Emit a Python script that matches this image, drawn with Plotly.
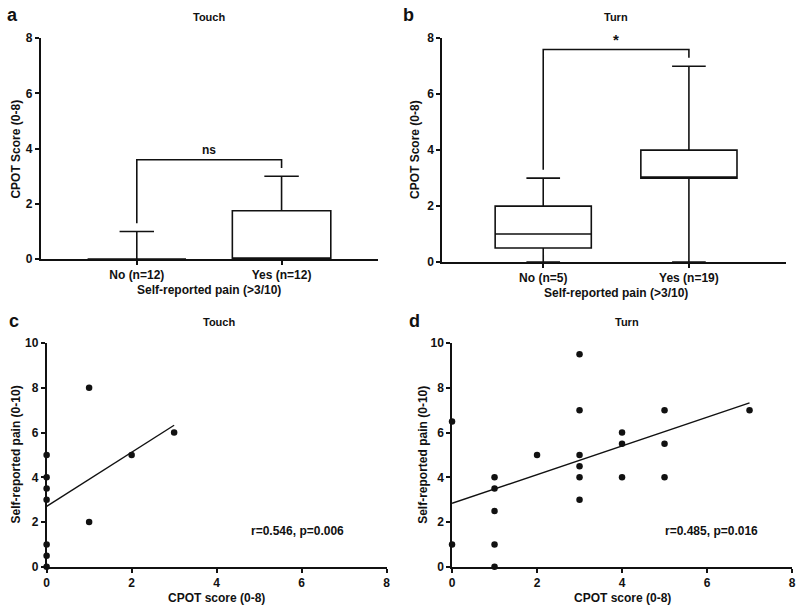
import plotly.graph_objects as go

# ---------------- data ----------------
# Panel a: Touch box summary (CPOT by self-reported pain)
cats_a = ["No (n=12)", "Yes (n=12)"]
q1_a = [0, 0]
med_a = [0, 0]
q3_a = [0, 1.75]
lo_a = [0, 0]
hi_a = [1, 3]
bracket_a = [1.3, 3.6, 3.6, 3.3]
sig_a = "ns"

# Panel b: Turn box summary
cats_b = ["No (n=5)", "Yes (n=19)"]
q1_b = [0.5, 3]
med_b = [1, 3]
q3_b = [2, 4]
lo_b = [0, 0]
hi_b = [3, 7]
bracket_b = [3.3, 7.6, 7.6, 7.3]
sig_b = "*"

# Panel c: Touch scatter
cpot_c = [0, 0, 0, 0, 0, 0, 0, 1, 1, 2, 3]
pain_c = [0, 0.5, 1, 3, 3.5, 4, 5, 8, 2, 5, 6]
fit_c_x = [0, 3]
fit_c_y = [2.7, 6.33]
stat_c = "r=0.546, p=0.006"

# Panel d: Turn scatter
cpot_d = [0, 0, 1, 1, 1, 1, 1, 2, 3, 3, 3, 3, 3, 3, 4, 4, 4, 5, 5, 5, 7]
pain_d = [6.5, 1, 4, 3.5, 2.5, 1, 0, 5, 9.5, 7, 5, 4.5, 4, 3, 6, 5.5, 4, 7, 5.5, 4, 7]
fit_d_x = [0, 7]
fit_d_y = [2.84, 7.33]
stat_d = "r=0.485, p=0.016"

box_ticks = [0, 2, 4, 6, 8]
sc_xticks = [0, 2, 4, 6, 8]
sc_yticks = [0, 2, 4, 6, 8, 10]

# ---------------- figure ----------------
W, H = 800, 611
FONT = "Liberation Sans, Arial, sans-serif"
BLK = "#111111"
FS = 12

def px(x):
    return x / W

def py(y):
    return 1 - y / H

fig = go.Figure()

def add_box(cats, q1, med, q3, lo, hi, xa, ya, width):
    for i, c in enumerate(cats):
        fig.add_trace(go.Box(
            x=[c], q1=[q1[i]], median=[med[i]], q3=[q3[i]],
            lowerfence=[lo[i]], upperfence=[hi[i]],
            xaxis=xa, yaxis=ya, width=width, whiskerwidth=0.35,
            fillcolor="white", line=dict(color=BLK, width=1.6),
            boxpoints=False, showlegend=False, hoverinfo="skip"))

add_box(cats_a, q1_a, med_a, q3_a, lo_a, hi_a, "x", "y", 0.68)
add_box(cats_b, q1_b, med_b, q3_b, lo_b, hi_b, "x2", "y2", 0.66)

# significance brackets
fig.add_trace(go.Scatter(x=[cats_a[0], cats_a[0], cats_a[1], cats_a[1]], y=bracket_a,
                         mode="lines", line=dict(color=BLK, width=1.6),
                         xaxis="x", yaxis="y", showlegend=False, cliponaxis=False, hoverinfo="skip"))
fig.add_trace(go.Scatter(x=[cats_b[0], cats_b[0], cats_b[1], cats_b[1]], y=bracket_b,
                         mode="lines", line=dict(color=BLK, width=1.6),
                         xaxis="x2", yaxis="y2", showlegend=False, cliponaxis=False, hoverinfo="skip"))

# scatters
for xs, ys, fx, fy, xa, ya in [(cpot_c, pain_c, fit_c_x, fit_c_y, "x3", "y3"),
                               (cpot_d, pain_d, fit_d_x, fit_d_y, "x4", "y4")]:
    fig.add_trace(go.Scatter(x=fx, y=fy, mode="lines", line=dict(color=BLK, width=1.4),
                             xaxis=xa, yaxis=ya, showlegend=False, cliponaxis=False, hoverinfo="skip"))
    fig.add_trace(go.Scatter(x=xs, y=ys, mode="markers", marker=dict(color=BLK, size=6.5),
                             xaxis=xa, yaxis=ya, showlegend=False, cliponaxis=False))

tickfont = dict(family=FONT, size=FS, color=BLK, weight="bold")
axis_common = dict(showline=True, linecolor=BLK, linewidth=1.6, ticks="outside",
                   ticklen=4, tickwidth=1.6, tickcolor=BLK, showgrid=False,
                   zeroline=False, tickfont=tickfont, fixedrange=True)

fig.update_layout(
    width=W, height=H, margin=dict(l=0, r=0, t=0, b=0),
    paper_bgcolor="white", plot_bgcolor="white",
    font=dict(family=FONT, color=BLK),
    xaxis=dict(domain=[px(38), px(378)], anchor="y", type="category",
               range=[-0.664, 1.664], **axis_common),
    yaxis=dict(domain=[py(258), py(32)], anchor="x", range=[0, 8],
               tickvals=box_ticks, **axis_common),
    xaxis2=dict(domain=[px(443), px(790)], anchor="y2", type="category",
                range=[-0.694, 1.667], **axis_common),
    yaxis2=dict(domain=[py(261), py(32)], anchor="x2", range=[0, 8],
                tickvals=box_ticks, **axis_common),
    xaxis3=dict(domain=[px(44), px(387)], anchor="y3", range=[0, 8],
                tickvals=sc_xticks, **axis_common),
    yaxis3=dict(domain=[py(573), py(344)], anchor="x3", range=[0, 10],
                tickvals=sc_yticks, **axis_common),
    xaxis4=dict(domain=[px(453), px(796)], anchor="y4", range=[0, 8],
                tickvals=sc_xticks, **axis_common),
    yaxis4=dict(domain=[py(573), py(344)], anchor="x4", range=[0, 10],
                tickvals=sc_yticks, **axis_common),
)

def ann(text, x, y, size=FS, angle=0, xanchor="center", weight="bold"):
    fig.add_annotation(text=text, x=px(x), y=py(y), xref="paper", yref="paper",
                       showarrow=False, xanchor=xanchor, yanchor="middle", textangle=angle,
                       font=dict(family=FONT, size=size, color=BLK, weight=weight))

# panel letters
ann("a", 10, 8, size=18)
ann("b", 409, 8, size=18)
ann("c", 11, 321, size=18)
ann("d", 415, 321, size=18)

# panel titles
ann("Touch", 208, 10, size=11)
ann("Turn", 618, 10, size=11)
ann("Touch", 218, 322, size=11)
ann("Turn", 630, 322, size=11)

# axis titles
ann("Self-reported pain (>3/10)", 208, 290)
ann("Self-reported pain (>3/10)", 618, 293)
ann("CPOT score (0-8)", 215, 604.5)
ann("CPOT score (0-8)", 625, 604.5)
ann("CPOT Score (0-8)", 13, 145, angle=-90)
ann("CPOT Score (0-8)", 415, 146, angle=-90)
ann("Self-reported pain (0-10)", 13, 458, angle=-90)
ann("Self-reported pain (0-10)", 423, 458, angle=-90)

# significance labels (data coords)
fig.add_annotation(text=sig_a, x=0.5, y=3.95, xref="x", yref="y", showarrow=False,
                   font=dict(family=FONT, size=FS, color=BLK, weight="bold"))
fig.add_annotation(text=sig_b, x=0.5, y=7.95, xref="x2", yref="y2", showarrow=False,
                   font=dict(family=FONT, size=15, color=BLK, weight="bold"))

# correlation stats
fig.add_annotation(text=stat_c, x=5.9, y=1.6, xref="x3", yref="y3", showarrow=False,
                   font=dict(family=FONT, size=FS, color=BLK, weight="bold"))
fig.add_annotation(text=stat_d, x=6.1, y=1.6, xref="x4", yref="y4", showarrow=False,
                   font=dict(family=FONT, size=FS, color=BLK, weight="bold"))

fig.write_html("out.html", config={"displayModeBar": False},
               post_script="document.body.style.margin='0';document.body.style.overflow='hidden';")
